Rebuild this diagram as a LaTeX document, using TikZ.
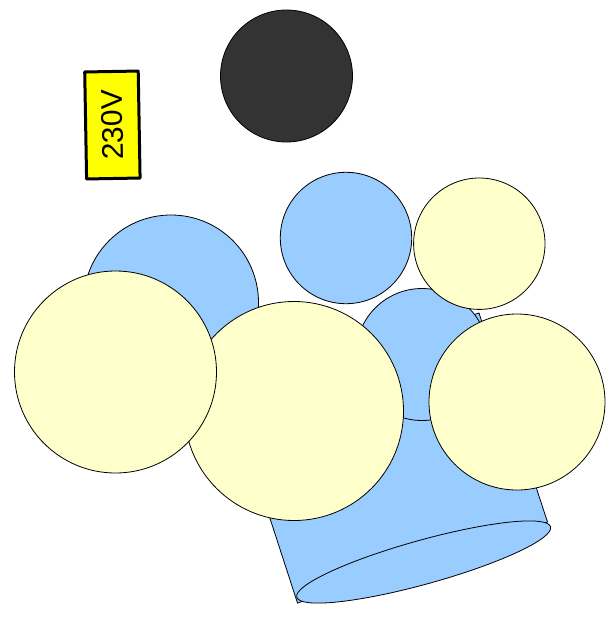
\documentclass[tikz,border=0pt]{standalone}
\usepackage{fontspec}
\setmainfont{Liberation Sans}
\usepackage{xcolor}
\definecolor{darkdisc}{HTML}{333333}
\definecolor{bluedisc}{HTML}{99CCFF}
\definecolor{creamdisc}{HTML}{FFFFCC}
\definecolor{plate}{HTML}{FFFF00}
\tikzset{
  disc/.style={draw=black,line width=0.8pt},
  bluepart/.style={disc,fill=bluedisc},
  creampart/.style={disc,fill=creamdisc},
  voltplate/.style={draw=black,fill=plate,line width=3pt,rounded corners=0.5pt,
                    minimum width=107pt,minimum height=53.5pt,inner sep=0pt,
                    font=\fontsize{30pt}{32pt}\selectfont}
}
\begin{document}
\begin{tikzpicture}[x=1pt,y=-1pt]
      \useasboundingbox (0,0) rectangle (612,619);
      \fill[white] (0,0) rectangle (612,619);
      % label and dark disc
      \node[voltplate,rotate=91] (volt) at (112.4,125) {230V};
      \draw[disc,fill=darkdisc] (286.5,76) circle (66);

      % tilted barrel
      \draw[bluepart] (479,313) -- (547.5,522) -- (297.5,603) -- (229.5,394) -- cycle;
      \draw[bluepart,rotate around={15.5:(423.7,562)}] (423.7,562) ellipse (131.7 and 22);

      % blue discs
      \draw[bluepart] (422,354.5) circle (66);
      \draw[bluepart] (346,238) circle (65.7);
      \draw[bluepart] (171,302.5) circle (87.5);

      % cream discs
      \draw[creampart] (479.3,243.7) circle (65.7);
      \draw[creampart] (517,402) circle (88);
      \draw[creampart] (294,411) circle (109.5);
      \draw[creampart] (115.5,372) circle (101);
    \end{tikzpicture}
\end{document}
